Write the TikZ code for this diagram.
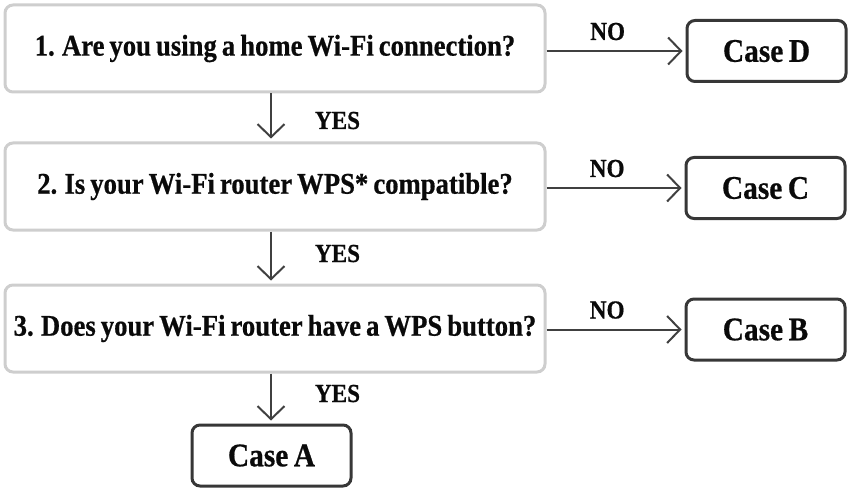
\documentclass[tikz,border=0pt]{standalone}
\usepackage{fontspec}
\setmainfont{Liberation Serif}[FakeStretch=0.89, WordSpace=0.75, BoldFeatures={FakeBold=0.6}]
\usetikzlibrary{arrows.meta}
\definecolor{boxgray}{RGB}{206,206,206}
\definecolor{casegray}{RGB}{55,55,55}
\definecolor{arrgray}{RGB}{64,64,64}
\definecolor{txt}{RGB}{10,10,10}
\begin{document}
\begin{tikzpicture}[x=1pt,y=1pt,
  qbox/.style={draw=boxgray, line width=3pt, rounded corners=8pt, minimum width=540pt, minimum height=87pt, inner sep=0pt, fill=white, text=txt, font=\fontsize{30}{32}\selectfont\bfseries},
  cbox/.style={draw=casegray, line width=3pt, rounded corners=8pt, minimum width=159pt, minimum height=61pt, inner sep=0pt, fill=white, text=txt, font=\fontsize{33}{36}\selectfont\bfseries},
  arr/.style={draw=arrgray, line width=2pt, -{Straight Barb[length=13pt,width=27pt]}, shorten >=3pt},
  lbl/.style={font=\fontsize{26}{28}\selectfont\bfseries, text=txt, anchor=base, inner sep=0pt}]
\useasboundingbox (0,0) rectangle (848,488);
\node[qbox] (b1) at (275,439.5) {1. Are you using a home Wi-Fi connection?};
\node[qbox] (b2) at (275,301.5) {2. Is your Wi-Fi router WPS* compatible?};
\node[qbox] (b3) at (275,159.5) {3. Does your Wi-Fi router have a WPS button?};
\node[cbox] (cD) at (766.5,437) {Case D};
\node[cbox] (cC) at (765.5,300) {Case C};
\node[cbox] (cB) at (765.5,158.5) {Case B};
\node[cbox] (cA) at (271.5,32.5) {Case A};
\coordinate (ax) at (271,0);
% NO arrows
\draw[arr] (b1.east |- cD.west) -- (cD.west) node[lbl, pos=0.44, yshift=11pt] (n1) {NO};
\draw[arr] (b2.east |- cC.west) -- (cC.west) node[lbl, pos=0.44, yshift=11pt] (n2) {NO};
\draw[arr] (b3.east |- cB.west) -- (cB.west) node[lbl, pos=0.44, yshift=11pt] (n3) {NO};
% YES arrows
\draw[arr] (b1.south -| ax) -- (b2.north -| ax);
\draw[arr] (b2.south -| ax) -- (b3.north -| ax);
\draw[arr] (b3.south -| ax) -- (cA.north -| ax);
\node[lbl] (y1) at (337.5,359) {YES};
\node[lbl] (y2) at (337.5,226) {YES};
\node[lbl] (y3) at (337.5,86) {YES};
\end{tikzpicture}
\end{document}
